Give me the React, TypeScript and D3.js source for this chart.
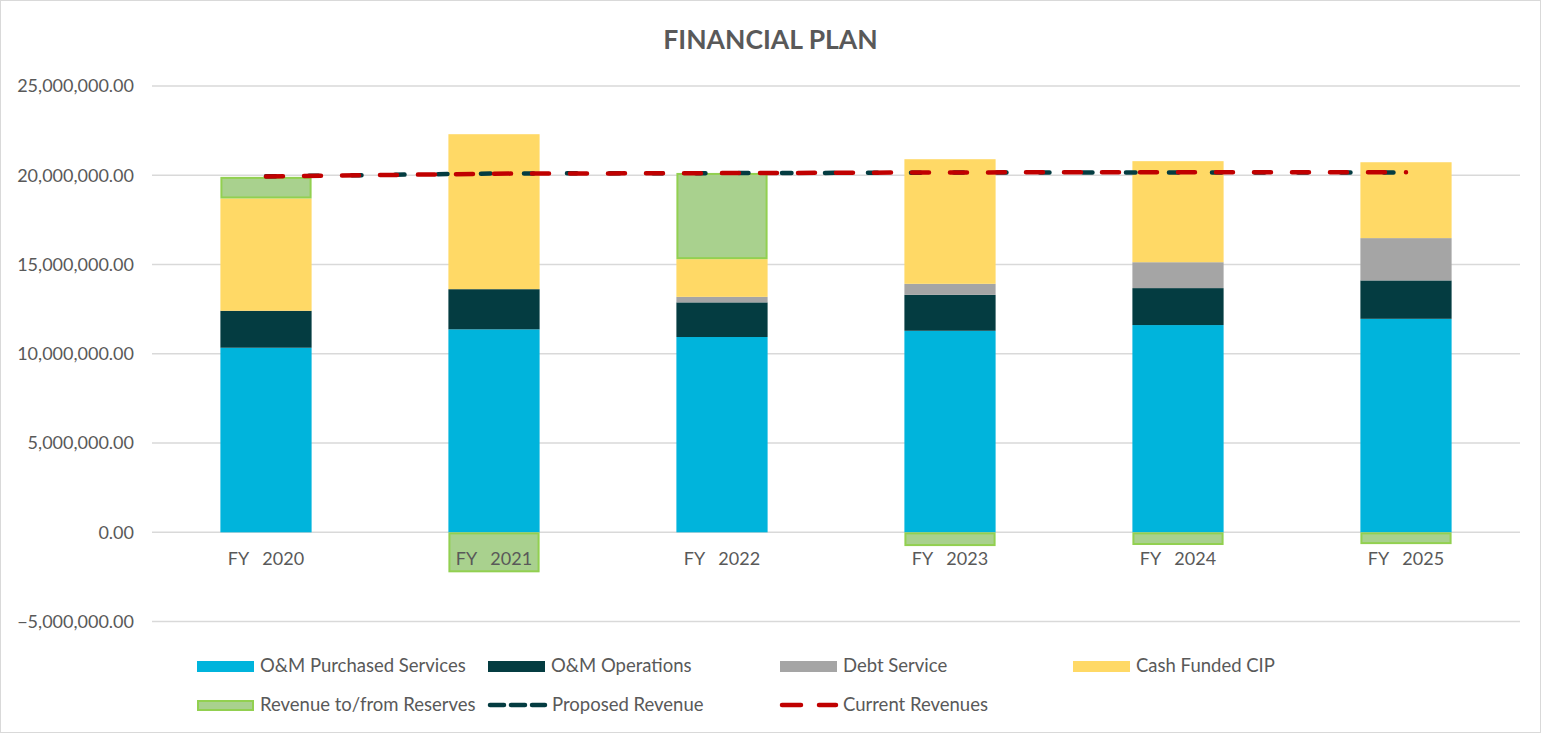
import React from 'react';
import * as d3 from 'd3';

const years = ['FY   2020', 'FY   2021', 'FY   2022', 'FY   2023', 'FY   2024', 'FY   2025'];

// values, in dollars
const purchasedServices = [10340000, 11370000, 10940000, 11290000, 11610000, 11960000];
const operations = [2070000, 2250000, 1940000, 2010000, 2070000, 2150000];
const debtService = [0, 0, 310000, 620000, 1450000, 2370000];
const cashFundedCip = [6290000, 8680000, 2110000, 6980000, 5660000, 4250000];
const reserves = [1210000, -2240000, 4830000, -770000, -710000, -660000];

const proposedRevenue = [19940000, 20100000, 20120000, 20150000, 20160000, 20160000];
const currentRevenues = [19930000, 20090000, 20120000, 20160000, 20170000, 20170000];

const yTicks = [-5000000, 0, 5000000, 10000000, 15000000, 20000000, 25000000];

const seriesKeys = ['purchased', 'operations', 'debt', 'cip', 'reserves'];
const seriesNames = ['O&M Purchased Services', 'O&M Operations', 'Debt Service', 'Cash Funded CIP', 'Revenue to/from Reserves'];
const seriesColors = ['#00B4DC', '#043C41', '#A5A5A5', '#FFD966', '#A9D18E'];

const W = 1541;
const H = 733;
const FONT = 'Lato, "Open Sans", sans-serif';
const TEXT = '#595959';

export default function App() {
  const rows = years.map((y, i) => ({
    year: y,
    purchased: purchasedServices[i],
    operations: operations[i],
    debt: debtService[i],
    cip: cashFundedCip[i],
    reserves: reserves[i],
  }));

  const stacked = d3.stack<any>().keys(seriesKeys).offset(d3.stackOffsetDiverging)(rows);

  const x = d3.scaleBand().domain(years).range([152, 1520]).paddingInner(0.6).paddingOuter(0.3);
  const y = d3.scaleLinear().domain([-5000000, 25000000]).range([621.6, 86]);
  const fmt = d3.format(',.2f');

  const line = d3.line<number>()
    .x((_, i) => x(years[i])! + x.bandwidth() / 2)
    .y(d => y(d));

  const legendCols = [197, 488, 780, 1073];
  const legendRows = [666, 705];

  return (
    <svg width={W} height={H} style={{ position: 'absolute', left: 0, top: 0, background: '#fff' }}>
      <rect x={0.5} y={0.5} width={W - 1} height={H - 1} fill="#fff" stroke="#D9D9D9" />
      <text x={W / 2} y={49} textAnchor="middle" fontFamily={FONT} fontWeight="bold" fontSize={26.5} fill={TEXT}>
        FINANCIAL PLAN
      </text>

      {/* gridlines + y labels */}
      {yTicks.map(t => (
        <g key={t}>
          <line x1={152} x2={1520} y1={y(t)} y2={y(t)} stroke="#D9D9D9" strokeWidth={1.5} />
          <text x={134} y={y(t)} dy="0.35em" textAnchor="end" fontFamily={FONT} fontSize={18} fill={TEXT}>
            {fmt(t)}
          </text>
        </g>
      ))}

      {/* stacked bars */}
      {stacked.map((s, si) => (
        <g key={s.key}>
          {s.map((d, i) => {
            const h = Math.abs(y(d[0]) - y(d[1]));
            if (h < 0.01) return null;
            const isRes = s.key === 'reserves';
            return (
              <rect
                key={i}
                x={x(years[i])! + (isRes ? 1 : 0)}
                y={Math.min(y(d[0]), y(d[1])) + (isRes ? 1 : 0)}
                width={x.bandwidth() - (isRes ? 2 : 0)}
                height={h - (isRes ? 2 : 0)}
                fill={seriesColors[si]}
                stroke={isRes ? '#92D050' : 'none'}
                strokeWidth={isRes ? 2 : 0}
              />
            );
          })}
        </g>
      ))}

      {/* category labels */}
      {years.map(yr => (
        <text key={yr} x={x(yr)! + x.bandwidth() / 2} y={565} textAnchor="middle" fontFamily={FONT}
          fontSize={18} fill={TEXT} style={{ whiteSpace: 'pre' }}>
          {yr}
        </text>
      ))}

      {/* revenue lines */}
      <path d={line(proposedRevenue)!} fill="none" stroke="#043C41" strokeWidth={4.5}
        strokeLinecap="round" strokeDasharray="9.5,33.5" />
      <path d={line(currentRevenues)!} fill="none" stroke="#C00000" strokeWidth={4.5}
        strokeLinecap="round" strokeDasharray="17,21" />

      {/* legend */}
      {seriesNames.map((name, i) => {
        const lx = legendCols[i % 4];
        const ly = legendRows[Math.floor(i / 4)];
        const isRes = i === 4;
        return (
          <g key={name}>
            <rect x={lx + (isRes ? 1 : 0)} y={ly - 5 + (isRes ? 1 : 0)} width={57 - (isRes ? 2 : 0)} height={isRes ? 9 : 11}
              fill={seriesColors[i]} stroke={isRes ? '#92D050' : 'none'} strokeWidth={isRes ? 2 : 0} />
            <text x={lx + 63} y={ly} dy="0.35em" fontFamily={FONT} fontSize={18.5} fill={TEXT}>{name}</text>
          </g>
        );
      })}
      <g>
        <line x1={legendCols[1] + 2} x2={legendCols[1] + 57} y1={legendRows[1]} y2={legendRows[1]}
          stroke="#043C41" strokeWidth={4.5} strokeLinecap="round" strokeDasharray="14,7" />
        <text x={legendCols[1] + 64} y={legendRows[1]} dy="0.35em" fontFamily={FONT} fontSize={18.5} fill={TEXT}>Proposed Revenue</text>
      </g>
      <g>
        <line x1={legendCols[2] + 2} x2={legendCols[2] + 56} y1={legendRows[1]} y2={legendRows[1]}
          stroke="#C00000" strokeWidth={4.5} strokeLinecap="round" strokeDasharray="19,18" />
        <text x={legendCols[2] + 63} y={legendRows[1]} dy="0.35em" fontFamily={FONT} fontSize={18.5} fill={TEXT}>Current Revenues</text>
      </g>
    </svg>
  );
}
